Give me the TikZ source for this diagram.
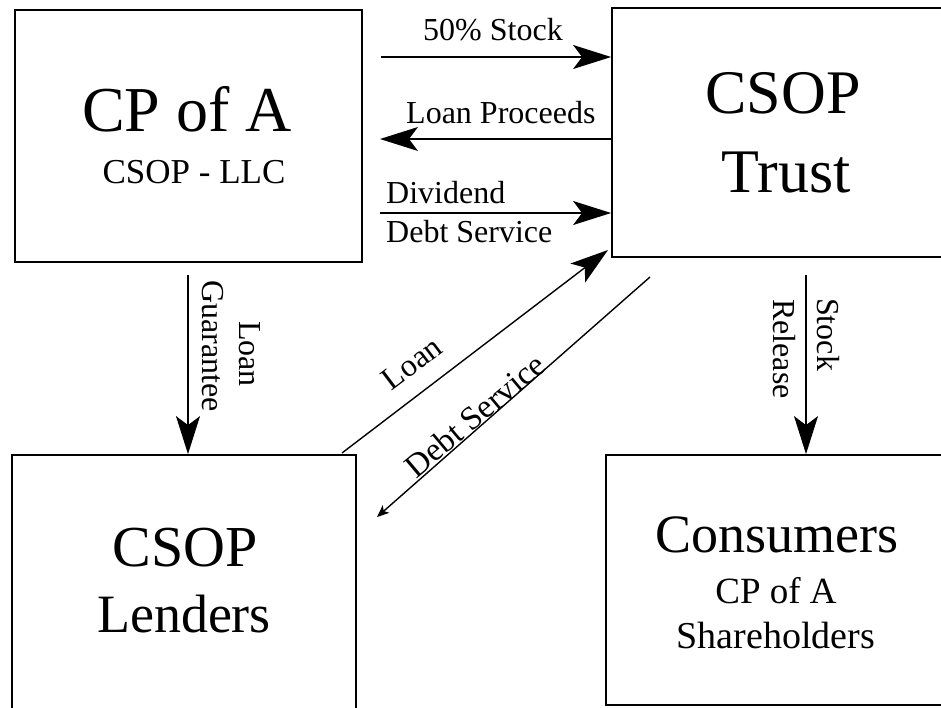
\documentclass[tikz,border=0pt]{standalone}
\usepackage{fontspec}
\setmainfont{Liberation Serif}
\usetikzlibrary{arrows.meta}
\begin{document}
\begin{tikzpicture}[x=1pt,y=-1pt,
  box/.style={draw, line width=1.8pt, inner sep=0pt},
  txt/.style={inner sep=0pt, anchor=base},
  lbl/.style={inner sep=0pt, font=\fontsize{32}{34}\selectfont},
  flow/.style={line width=1.4pt, -{Stealth[length=38pt,width=24pt,inset=9pt]}},
  smallflow/.style={line width=1.4pt, -{Stealth[length=12pt,width=10pt,inset=3pt]}}
]
\useasboundingbox (0,0) rectangle (941,707);
\clip (0,0) rectangle (941,707);
\fill[white] (0,0) rectangle (941,707);

% boxes
\node[box, minimum width=347pt, minimum height=252pt] (cpa) at (188.5,136) {};
\node[box, minimum width=348pt, minimum height=249pt] (trust) at (786,132.5) {};
\node[box, minimum width=344pt, minimum height=275pt] (lend) at (184,592.5) {};
\node[box, minimum width=354pt, minimum height=250pt] (cons) at (783,580) {};

% box texts
\node[txt, font=\fontsize{64}{64}\selectfont] (t1) at (187,131) {CP of A};
\node[txt, font=\fontsize{35}{35}\selectfont] (t2) at (194,183) {CSOP - LLC};
\node[txt, font=\fontsize{62}{62}\selectfont] (t3) at (783,113) {CSOP};
\node[txt, font=\fontsize{62}{62}\selectfont] (t4) at (786,192) {Trust};
\node[txt, font=\fontsize{58}{58}\selectfont] (t5) at (185,566) {CSOP};
\node[txt, font=\fontsize{54}{54}\selectfont] (t6) at (184,632) {Lenders};
\node[txt, font=\fontsize{54}{54}\selectfont] (t7) at (777,552) {Consumers};
\node[txt, font=\fontsize{37}{37}\selectfont] (t8) at (776,603) {CP of A};
\node[txt, font=\fontsize{38}{38}\selectfont] (t9) at (776,648) {Shareholders};

% horizontal flows
\coordinate (s1) at (381,57);
\coordinate (s2) at (380,139);
\coordinate (s3) at (380,213);
\draw[flow] (s1) -- (s1 -| trust.west);
\draw[flow] (s2 -| trust.west) -- (s2);
\draw[flow] (s3) -- (s3 -| trust.west);
\node[lbl, anchor=base west] (l1) at (423,40) {50\% Stock};
\node[lbl, anchor=base west] (l2) at (406,123) {Loan Proceeds};
\node[lbl, anchor=base west] (l3) at (386,203) {Dividend};
\node[lbl, anchor=base west] (l4) at (386,242) {Debt Service};

% vertical flows
\coordinate (g1) at (188,275);
\draw[flow] (g1) -- (g1 |- lend.north);
\node[lbl, rotate=-90] (l5) at (250,354) {Loan};
\node[lbl, rotate=-90] (l6) at (213,346) {Guarantee};
\coordinate (r1) at (806,275);
\draw[flow] (r1) -- (r1 |- cons.north);
\node[lbl, rotate=-90, anchor=west] (l7) at (828,298) {Stock};
\node[lbl, rotate=-90, anchor=west] (l8) at (784,299) {Release};

% diagonal flows
\coordinate (d1) at (342,453);
\coordinate (d2) at (608,250);
\draw[flow] (d1) -- (d2);
\coordinate (d3) at (650,277);
\coordinate (d4) at (377,517);
\draw[smallflow] (d3) -- (d4);
\node[lbl, rotate=37] (l9) at (412,363) {Loan};
\node[lbl, rotate=40, anchor=base, font=\fontsize{33}{34}\selectfont] (l10) at (482,424) {Debt Service};
\end{tikzpicture}
\end{document}
